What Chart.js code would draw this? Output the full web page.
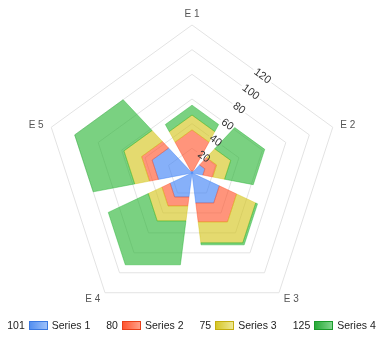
<!DOCTYPE html>
<html>
<head>
<meta charset="utf-8">
<script src="https://cdn.jsdelivr.net/npm/chart.js@4/dist/chart.umd.min.js"></script>
<style>
  html, body { margin: 0; padding: 0; background: #fff; }
  #wrap { position: relative; width: 383px; height: 339px; overflow: hidden; }
  #chart-box { position: absolute; left: 0; top: 0; width: 383px; height: 339px; }
  #legend {
    position: absolute; left: 0; top: 319px; width: 383px;
    display: flex; justify-content: center; align-items: center;
    font: 10.5px "Liberation Sans", Arial, sans-serif; color: #222;
    white-space: nowrap;
  }
  .item { display: flex; align-items: center; margin: 0 8px; }
  .item .val { margin-right: 4px; }
  .item .sw { width: 17px; height: 7px; margin-right: 4px; border: 1px solid; }
</style>
</head>
<body>
<div id="wrap">
  <div id="chart-box"><canvas id="polar"></canvas></div>
  <div id="legend"></div>
</div>
<script>
// categories around the pentagon, clockwise from the top
const CATEGORIES = ["E 1", "E 2", "E 3", "E 4", "E 5"];
const SERIES_NAMES = ["Series 1", "Series 2", "Series 3", "Series 4"];

// stacked values, innermost series first
const SERIES_1 = [2, 11, 30, 24, 34];
const SERIES_2 = [33, 10, 19, 9, 9];
const SERIES_3 = [12, 12, 21, 15, 15];
const SERIES_4 = [8, 29, 2, 44, 42];

const TICK_VALUES = [20, 40, 60, 80, 100, 120];

// base colours: fill is drawn semi transparent over the grid
const SERIES_RGB = [
  [60, 128, 245],
  [255, 82, 42],
  [212, 196, 22],
  [40, 180, 52],
];
const SWATCH = [
  { border: "#3a78e0", from: "#5590f0", to: "#9cc0fa" },
  { border: "#e8401a", from: "#ff5530", to: "#ffa088" },
  { border: "#c4ae10", from: "#d6c628", to: "#eee894" },
  { border: "#1a9a2a", from: "#28aa38", to: "#80d48c" },
];

const COLUMN_WIDTH = 0.8; // share of each category's angle used by its column
const FONT = "'Liberation Sans', Arial, sans-serif";

const rgba = (c, a) => `rgba(${c[0]},${c[1]},${c[2]},${a})`;

// ── stacked polygon columns on the radial scale ──
const columnPlugin = {
  id: "polarColumns",
  beforeDatasetsDraw(chart) {
    const scale = chart.scales.r;
    const ctx = chart.ctx;
    const n = chart.data.labels.length;
    const half = Math.PI / n;
    const h = half * COLUMN_WIDTH;
    const edge = r => r * Math.cos(half) / Math.cos(half - h);
    const pt = (ang, d) => [scale.xCenter + Math.cos(ang) * d, scale.yCenter + Math.sin(ang) * d];

    // white backing under the tick labels so the grid stops there
    const mid = scale.getIndexAngle(0) + half;
    ctx.save();
    ctx.font = "11px " + FONT;
    scale.ticks.forEach(t => {
      if (!t.value) return;
      const d = scale.getDistanceFromCenterForValue(t.value) * Math.cos(half);
      const [x, y] = pt(mid - Math.PI / 2, d);
      const w = ctx.measureText(String(t.value)).width;
      ctx.save();
      ctx.translate(x, y);
      ctx.rotate(mid);
      ctx.fillStyle = "#fff";
      ctx.fillRect(-w / 2 - 2, -6, w + 4, 12);
      ctx.restore();
    });
    ctx.restore();

    const base = new Array(n).fill(0);
    chart.data.datasets.forEach((ds, k) => {
      const c = SERIES_RGB[k];
      ds.data.forEach((v, i) => {
        const r0 = scale.getDistanceFromCenterForValue(base[i]);
        const r1 = scale.getDistanceFromCenterForValue(base[i] + v);
        base[i] += v;
        const a = scale.getIndexAngle(i) - Math.PI / 2;
        const pts = [
          pt(a - h, edge(r1)), pt(a, r1), pt(a + h, edge(r1)),
          pt(a + h, edge(r0)), pt(a, r0), pt(a - h, edge(r0)),
        ];
        ctx.save();
        ctx.beginPath();
        pts.forEach(([x, y], j) => (j ? ctx.lineTo(x, y) : ctx.moveTo(x, y)));
        ctx.closePath();
        ctx.fillStyle = rgba(c, 0.62);
        ctx.fill();
        ctx.lineWidth = 0.8;
        ctx.strokeStyle = rgba(c, 0.55);
        ctx.stroke();
        ctx.restore();
      });
    });
  },
  afterDatasetsDraw(chart) {
    const scale = chart.scales.r;
    const ctx = chart.ctx;
    const half = Math.PI / chart.data.labels.length;
    const mid = scale.getIndexAngle(0) + half;

    // tick labels run along the gap between E 1 and E 2
    ctx.save();
    ctx.font = "11px " + FONT;
    ctx.fillStyle = "#333";
    ctx.textAlign = "center";
    ctx.textBaseline = "middle";
    scale.ticks.forEach(t => {
      if (!t.value) return;
      const d = scale.getDistanceFromCenterForValue(t.value) * Math.cos(half);
      const x = scale.xCenter + Math.cos(mid - Math.PI / 2) * d;
      const y = scale.yCenter + Math.sin(mid - Math.PI / 2) * d;
      ctx.save();
      ctx.translate(x, y);
      ctx.rotate(mid);
      ctx.fillText(String(t.value), 0, 0);
      ctx.restore();
    });

    // category names just outside the outer ring, vertically centred
    ctx.font = "10px " + FONT;
    ctx.fillStyle = "#555";
    chart.data.labels.forEach((label, i) => {
      const p = scale.getPointPosition(i, scale.drawingArea + 8);
      const dx = p.x - scale.xCenter;
      ctx.textAlign = Math.abs(dx) < 2 ? "center" : dx > 0 ? "left" : "right";
      ctx.fillText(label, p.x, Math.abs(dx) < 2 ? p.y - 3 : p.y);
    });
    ctx.restore();
  },
};

Chart.defaults.font.family = FONT;

const seriesData = [SERIES_1, SERIES_2, SERIES_3, SERIES_4];

new Chart(document.getElementById("polar"), {
  type: "radar",
  data: {
    labels: CATEGORIES,
    datasets: seriesData.map((d, k) => ({
      label: SERIES_NAMES[k],
      data: d,
      showLine: false,
      borderWidth: 0,
      pointRadius: 0,
      pointHoverRadius: 0,
      fill: false,
    })),
  },
  options: {
    responsive: true,
    maintainAspectRatio: false,
    animation: false,
    events: [],
    layout: { padding: { top: 25, bottom: 18, left: 1, right: 0 } },
    plugins: { legend: { display: false }, tooltip: { enabled: false } },
    scales: {
      r: {
        min: 0,
        max: 120,
        afterBuildTicks: s => { s.ticks = [0, ...TICK_VALUES].map(v => ({ value: v })); },
        ticks: { display: false },
        grid: { color: "#e3e3e3", lineWidth: 1 },
        angleLines: { display: false },
        pointLabels: { display: false },
      },
    },
  },
  plugins: [columnPlugin],
});

// legend: series total, swatch, name
const legend = document.getElementById("legend");
seriesData.forEach((d, k) => {
  const total = d.reduce((s, v) => s + v, 0);
  const el = document.createElement("span");
  el.className = "item";
  el.innerHTML = `<span class="val">${total}</span>` +
    `<span class="sw" style="border-color:${SWATCH[k].border};background:linear-gradient(to right, ${SWATCH[k].from}, ${SWATCH[k].to})"></span>` +
    `<span class="name">${SERIES_NAMES[k]}</span>`;
  legend.appendChild(el);
});
</script>
</body>
</html>
